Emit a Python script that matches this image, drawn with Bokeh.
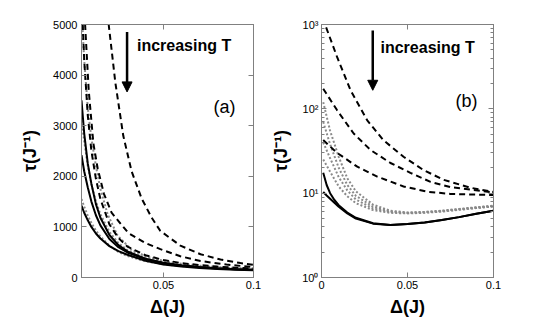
from bokeh.plotting import figure
from bokeh.models import (Range1d, FixedTicker, LogTicker, LinearAxis, LogAxis,
                          CustomJSTickFormatter, Arrow, NormalHead, Label)
from bokeh.layouts import row
from bokeh.embed import file_html
from bokeh.resources import INLINE

# ---------------- data: panel (a), linear tau ----------------
gL = [0.0045, 0.006, 0.008, 0.01, 0.0125, 0.015, 0.02, 0.025, 0.03, 0.04, 0.05, 0.06, 0.07, 0.08, 0.09, 0.1]
a_solid1 = [3500, 2850, 2250, 1850, 1450, 1180, 840, 640, 515, 370, 290, 240, 206, 183, 165, 152]
a_solid2 = [2420, 2100, 1780, 1500, 1230, 1030, 760, 600, 495, 360, 280, 232, 202, 180, 163, 150]
a_solid3 = [1420, 1280, 1130, 1000, 870, 770, 620, 520, 450, 330, 255, 215, 188, 168, 154, 142]

a_dot1_x = [0.0045, 0.0048, 0.006, 0.008, 0.01, 0.0125, 0.015, 0.019, 0.0245, 0.032, 0.04, 0.05, 0.06, 0.07, 0.08, 0.09, 0.1]
a_dot1 = [5600, 5100, 4300, 3350, 2750, 2200, 1750, 1250, 830, 560, 420, 330, 272, 233, 207, 188, 175]
a_dot2 = [3100, 2700, 2200, 1850, 1500, 1250, 900, 680, 540, 390, 300, 250, 215, 193, 178, 168]
a_dot3 = [1550, 1400, 1220, 1080, 930, 810, 630, 505, 425, 320, 262, 225, 200, 182, 170, 160]

a_dash1_x = [0.018, 0.0196, 0.0233, 0.0277, 0.0323, 0.0379, 0.0435, 0.0483, 0.0594, 0.0706, 0.0817, 0.0928, 0.1]
a_dash1 = [5800, 5000, 3850, 2800, 2100, 1560, 1180, 920, 630, 460, 355, 285, 250]
a_dash2_x = [0.0055, 0.0065, 0.0085, 0.0111, 0.0135, 0.017, 0.0212, 0.0305, 0.0398, 0.0483, 0.0594, 0.0706, 0.085, 0.1]
a_dash2 = [5800, 5000, 3700, 2650, 2150, 1650, 1280, 880, 683, 560, 420, 325, 256, 205]
a_dash3_x = [0.0045, 0.0052, 0.006, 0.008, 0.01, 0.0125, 0.015, 0.02, 0.025, 0.03, 0.04, 0.05, 0.06, 0.07, 0.08, 0.09, 0.1]
a_dash3 = [5800, 5000, 4300, 3200, 2500, 1950, 1550, 1050, 780, 610, 440, 345, 285, 245, 215, 193, 178]

# ---------------- data: panel (b), log tau ----------------
b_dash1_x = [0.001, 0.0023, 0.0091, 0.0169, 0.0266, 0.036, 0.0477, 0.0593, 0.071, 0.0866, 0.1]
b_dash1 = [1200, 970, 410, 166, 73, 42.5, 27, 18.8, 14.4, 11.6, 10.3]
b_dash2_x = [0.001, 0.0091, 0.0187, 0.0285, 0.0401, 0.0517, 0.0634, 0.075, 0.1]
b_dash2 = [173, 96, 51, 32.5, 22.8, 17.4, 13.6, 11.8, 10.2]
b_dash3_x = [0.001, 0.0091, 0.0208, 0.0324, 0.0477, 0.0617, 0.075, 0.1]
b_dash3 = [42.6, 30, 20.6, 15.7, 12, 10.4, 9.8, 9.5]

gR = [0.001, 0.005, 0.01, 0.015, 0.02, 0.03, 0.04, 0.05, 0.06, 0.07, 0.08, 0.09, 0.1]
b_dot1 = [120, 55, 27, 15, 10.5, 7.3, 6.2, 5.9, 6.0, 6.2, 6.5, 6.8, 7.1]
b_dot2 = [70, 38, 20, 12.5, 9.3, 6.9, 6.05, 5.85, 5.95, 6.15, 6.45, 6.75, 7.05]
b_dot3 = [40, 26, 15.5, 10.8, 8.4, 6.6, 5.95, 5.8, 5.9, 6.1, 6.4, 6.7, 7.0]
b_dot4 = [25, 18, 12, 9.2, 7.6, 6.3, 5.85, 5.75, 5.85, 6.05, 6.35, 6.65, 6.95]

gS = [0.001, 0.003, 0.005, 0.0075, 0.01, 0.015, 0.02, 0.03, 0.04, 0.05, 0.06, 0.07, 0.08, 0.09, 0.1]
b_solid1 = [17.5, 12.5, 10, 8.3, 7.2, 5.9, 5.1, 4.4, 4.2, 4.3, 4.5, 4.8, 5.2, 5.7, 6.2]
b_solid2 = [10.3, 9.4, 8.6, 7.7, 6.9, 5.75, 5.0, 4.35, 4.2, 4.3, 4.5, 4.8, 5.2, 5.7, 6.2]

x_ticks_a = [0.05, 0.1]
x_ticks_b = [0, 0.05, 0.1]
y_ticks_a = [0, 1000, 2000, 3000, 4000, 5000]

FONT = "Liberation Sans"
BOX = "#808080"
GRAY = "#8a8a8a"

xfmt = CustomJSTickFormatter(code="return tick.toString();")
blankfmt = CustomJSTickFormatter(code="return '';")
logfmt = CustomJSTickFormatter(code="""
const sup = {0: '\u2070', 1: '\u00b9', 2: '\u00b2', 3: '\u00b3'};
const e = Math.round(Math.log10(tick));
return '10' + sup[e];
""")


def style_axis(ax, show=True):
    ax.axis_line_color = BOX
    ax.major_tick_line_color = BOX
    ax.major_tick_in = 5
    ax.major_tick_out = 0
    ax.minor_tick_line_color = None
    ax.major_label_text_font = FONT
    ax.major_label_text_color = "black"
    ax.major_label_text_font_size = "11px"
    ax.axis_label_text_font = FONT
    ax.axis_label_text_font_size = "18px"
    ax.axis_label_text_font_style = "bold"
    ax.axis_label_text_color = "black"
    if not show:
        ax.formatter = blankfmt
        ax.major_label_standoff = 0


def base_fig(width, left, right, x_range, y_range, y_type):
    p = figure(width=width, height=319, x_range=x_range, y_range=y_range,
               y_axis_type=y_type, output_backend="svg", toolbar_location=None,
               min_border_left=left, min_border_right=right,
               min_border_top=24, min_border_bottom=41)
    p.xgrid.visible = False
    p.ygrid.visible = False
    p.outline_line_color = BOX
    p.outline_line_width = 1
    return p


# ---------------- panel (a) ----------------
pa = base_fig(262, 81, 9, Range1d(0.0045, 0.1), Range1d(0, 5000), "linear")
xt_a = FixedTicker(ticks=x_ticks_a)
yt_a = FixedTicker(ticks=y_ticks_a)
pa.xaxis.ticker = xt_a
pa.xaxis.formatter = xfmt
pa.yaxis.ticker = yt_a
for ax in pa.xaxis + pa.yaxis:
    style_axis(ax)
pa.xaxis.axis_label = "Δ(J)"
pa.yaxis.axis_label = "τ(J⁻¹)"
pa.xaxis.major_label_standoff = 3
pa.xaxis.axis_label_standoff = 5
pa.yaxis.major_label_standoff = 4
pa.yaxis.axis_label_standoff = 10
top_a = LinearAxis(ticker=xt_a)
right_a = LinearAxis(ticker=yt_a)
style_axis(top_a, False)
style_axis(right_a, False)
pa.add_layout(top_a, "above")
pa.add_layout(right_a, "right")

pa.line(a_dot1_x, a_dot1, line_color=GRAY, line_width=2, line_dash="2 2")
for ys in (a_dot2, a_dot3):
    pa.line(gL, ys, line_color=GRAY, line_width=2, line_dash="2 2")
pa.line(a_dash1_x, a_dash1, line_color="black", line_width=2, line_dash="6 4")
pa.line(a_dash2_x, a_dash2, line_color="black", line_width=2, line_dash="6 4")
pa.line(a_dash3_x, a_dash3, line_color="black", line_width=2, line_dash="6 4")
for ys in (a_solid1, a_solid2, a_solid3):
    pa.line(gL, ys, line_color="black", line_width=2)

pa.add_layout(Arrow(end=NormalHead(size=10, fill_color="black", line_color="black"),
                    x_start=0.0298, y_start=4850, x_end=0.0298, y_end=3668,
                    line_color="black", line_width=2.5))
pa.add_layout(Label(x=0.0353, y=4578, text="increasing T", text_font=FONT,
                    text_font_size="16px", text_font_style="bold",
                    text_baseline="middle", text_color="black"))
pa.add_layout(Label(x=0.0778, y=3373, text="(a)", text_font=FONT,
                    text_font_size="18px", text_baseline="middle", text_color="black"))

# ---------------- panel (b) ----------------
pb = base_fig(246, 59, 15, Range1d(0, 0.1), Range1d(1, 1000), "log")
xt_b = FixedTicker(ticks=x_ticks_b)
yt_b = LogTicker(num_minor_ticks=10)
pb.xaxis.ticker = xt_b
pb.xaxis.formatter = xfmt
pb.yaxis.ticker = yt_b
pb.yaxis.formatter = logfmt
for ax in pb.xaxis + pb.yaxis:
    style_axis(ax)
pb.yaxis.minor_tick_line_color = BOX
pb.yaxis.minor_tick_in = 3
pb.yaxis.minor_tick_out = 0
pb.xaxis.axis_label = "Δ(J)"
pb.yaxis.axis_label = "τ(J⁻¹)"
pb.xaxis.major_label_standoff = 3
pb.xaxis.axis_label_standoff = 5
pb.yaxis.major_label_standoff = 3
pb.yaxis.axis_label_standoff = 8
top_b = LinearAxis(ticker=xt_b)
right_b = LogAxis(ticker=yt_b)
style_axis(top_b, False)
style_axis(right_b, False)
right_b.minor_tick_line_color = BOX
right_b.minor_tick_in = 3
right_b.minor_tick_out = 0
pb.add_layout(top_b, "above")
pb.add_layout(right_b, "right")

for ys in (b_dot1, b_dot2, b_dot3, b_dot4):
    pb.line(gR, ys, line_color=GRAY, line_width=2, line_dash="2 2")
pb.line(b_dash1_x, b_dash1, line_color="black", line_width=2, line_dash="6 4")
pb.line(b_dash2_x, b_dash2, line_color="black", line_width=2, line_dash="6 4")
pb.line(b_dash3_x, b_dash3, line_color="black", line_width=2, line_dash="6 4")
for ys in (b_solid1, b_solid2):
    pb.line(gS, ys, line_color="black", line_width=2)

pb.add_layout(Arrow(end=NormalHead(size=10, fill_color="black", line_color="black"),
                    x_start=0.0298, y_start=847, x_end=0.0298, y_end=166,
                    line_color="black", line_width=2.5))
pb.add_layout(Label(x=0.0343, y=527, text="increasing T", text_font=FONT,
                    text_font_size="16px", text_font_style="bold",
                    text_baseline="middle", text_color="black"))
pb.add_layout(Label(x=0.0779, y=124, text="(b)", text_font=FONT,
                    text_font_size="18px", text_baseline="middle", text_color="black"))

layout = row(pa, pb)
open("out.html", "w").write(file_html(layout, INLINE))
